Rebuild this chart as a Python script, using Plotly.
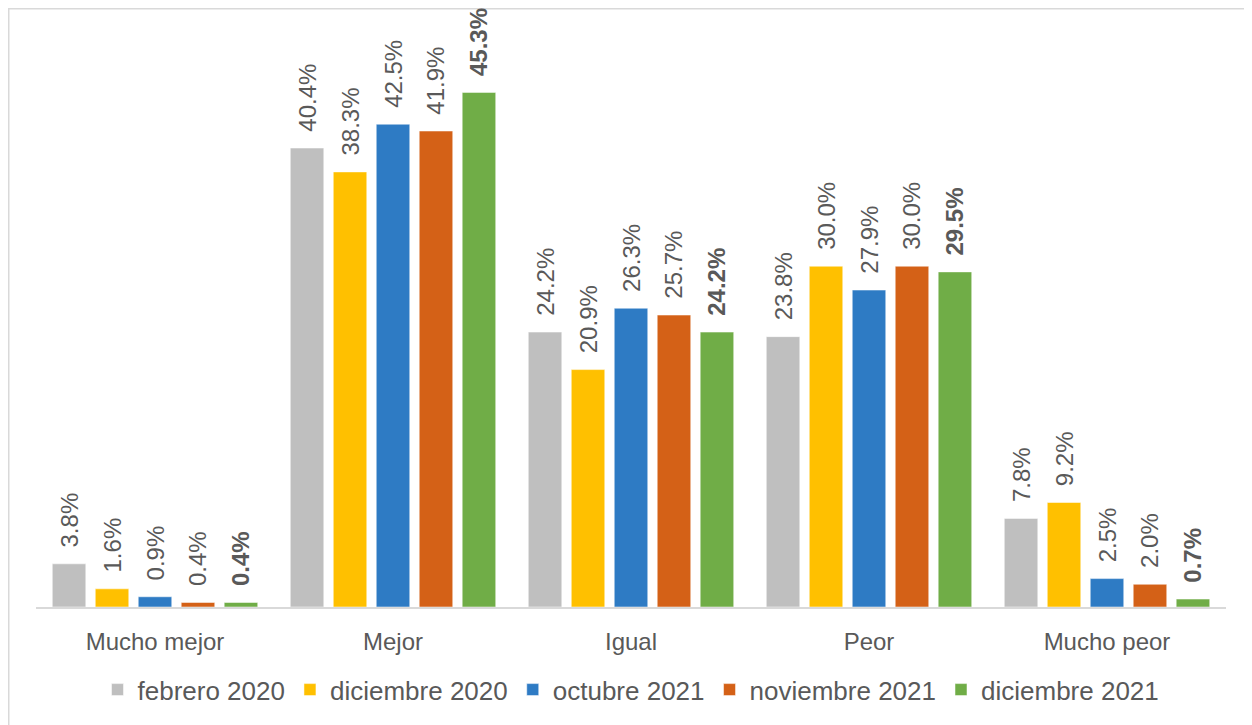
import plotly.graph_objects as go

categories = ["Mucho mejor", "Mejor", "Igual", "Peor", "Mucho peor"]
series_names = ["febrero 2020", "diciembre 2020", "octubre 2021", "noviembre 2021", "diciembre 2021"]
feb_2020 = [3.8, 40.4, 24.2, 23.8, 7.8]
dic_2020 = [1.6, 38.3, 20.9, 30.0, 9.2]
oct_2021 = [0.9, 42.5, 26.3, 27.9, 2.5]
nov_2021 = [0.4, 41.9, 25.7, 30.0, 2.0]
dic_2021 = [0.4, 45.3, 24.2, 29.5, 0.7]
series_values = [feb_2020, dic_2020, oct_2021, nov_2021, dic_2021]
colors = ["#BFBFBF", "#FFC000", "#2E7BC4", "#D46117", "#70AD47"]

# page has an 8px body margin; figure sized to fill the rest of the window
OFF = 8
W, H = 1252 - OFF, 725 - OFF
L, R, T, B = 36 - OFF, 26, 39 - OFF, 116
FONT = "Liberation Sans, Arial, sans-serif"
TXT = "#595959"

fig = go.Figure()
for i, (name, vals, col) in enumerate(zip(series_names, series_values, colors)):
    bold = i == len(series_names) - 1
    tmpl = "\u00a0\u00a0%{y:.1f}%" if not bold else "\u00a0\u00a0<b>%{y:.1f}%</b>"
    fig.add_trace(go.Bar(
        name=name, x=categories, y=vals,
        marker=dict(color=col, line=dict(color="rgba(255,255,255,0.5)", width=1)),
        texttemplate=tmpl, textposition="outside", textangle=-90,
        constraintext="none",
        textfont=dict(family=FONT, size=24, color=TXT),
        cliponaxis=False,
    ))

pw = W - L - R
ph = H - T - B
def px_x(p):  # page pixel -> paper
    return (p - OFF - L) / pw
def px_y(p):
    return (H - B - (p - OFF)) / ph

fig.update_layout(
    width=W, height=H,
    margin=dict(l=L, r=R, t=T, b=B),
    paper_bgcolor="white", plot_bgcolor="white",
    barmode="group", bargap=0.097, bargroupgap=0.22,
    font=dict(family=FONT, size=24, color=TXT),
    showlegend=True,
    legend=dict(orientation="h", x=0.5, xanchor="center", y=px_y(692), yanchor="middle",
                font=dict(family=FONT, size=26, color=TXT), itemwidth=30,
                traceorder="normal"),
    xaxis=dict(showline=True, linecolor="#D9D9D9", linewidth=1.5, ticks="",
               showgrid=False, tickfont=dict(family=FONT, size=24, color=TXT),
               ticklabelstandoff=12),
    yaxis=dict(range=[0, 50], visible=False, showgrid=False, zeroline=False),
    shapes=[dict(type="rect", xref="paper", yref="paper",
                 x0=px_x(8.75), x1=px_x(1250), y0=px_y(740), y1=px_y(8.75),
                 line=dict(color="#D9D9D9", width=1.5), layer="below")],
)

fig.write_html("out.html")
